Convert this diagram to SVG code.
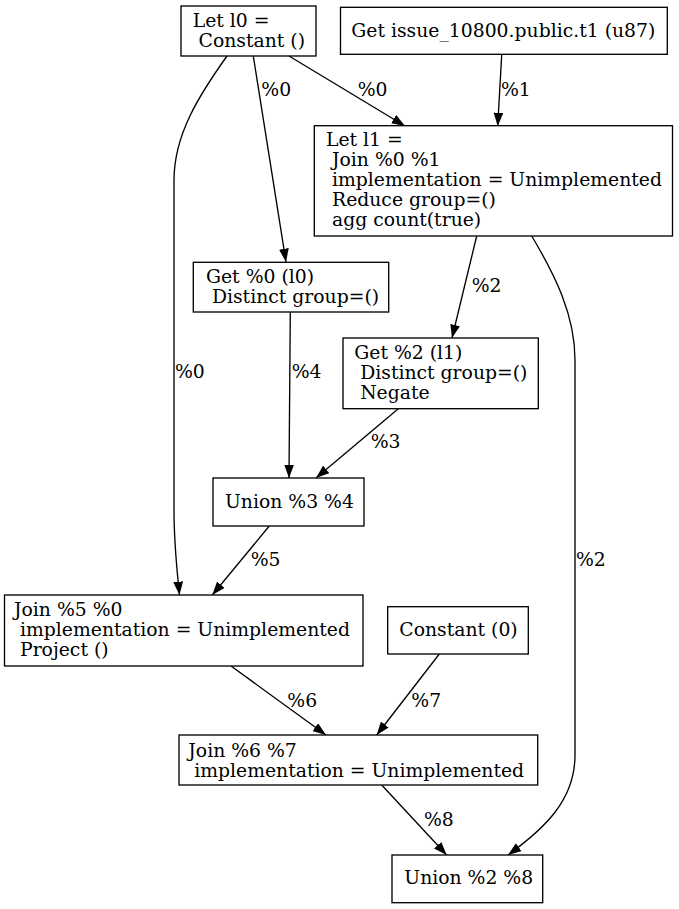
<svg xmlns="http://www.w3.org/2000/svg" width="679" height="909" viewBox="0 0 679 909">
<style>
text{font-family:"DejaVu Serif","Liberation Serif",serif;font-size:18.8px;fill:#000}
.n{fill:#fff;stroke:#000;stroke-width:1.33}
.e{fill:none;stroke:#000;stroke-width:1.33}
</style>
<defs>
<marker id="ah" markerUnits="userSpaceOnUse" viewBox="0 0 13.3 9.8" refX="13.3" refY="4.9" markerWidth="13.3" markerHeight="9.8" orient="auto">
<path d="M0,0 L13.3,4.9 L0,9.8 z" fill="#000"/>
</marker>
</defs>
<rect width="679" height="909" fill="#fff"/>
<g id="edges">
<path class="e" marker-end="url(#ah)" d="M289,56 L405,126"/>
<path class="e" marker-end="url(#ah)" d="M253.3,56 L286,262"/>
<path class="e" marker-end="url(#ah)" d="M227,56 C200,94 174,134 174,180 L174,510 C174,545 177,570 179.5,595"/>
<path class="e" marker-end="url(#ah)" d="M501.7,55 L497.7,126"/>
<path class="e" marker-end="url(#ah)" d="M476.7,236 L452,338"/>
<path class="e" marker-end="url(#ah)" d="M531.7,236 C555,275 575,315 575,360 L575,755 C575,800 545,828 508,855"/>
<path class="e" marker-end="url(#ah)" d="M290.3,312 L289,478"/>
<path class="e" marker-end="url(#ah)" d="M398.3,408.7 L316,478"/>
<path class="e" marker-end="url(#ah)" d="M269.3,526 L212.3,595"/>
<path class="e" marker-end="url(#ah)" d="M231,666 L326,735"/>
<path class="e" marker-end="url(#ah)" d="M439.3,654 L376.7,735"/>
<path class="e" marker-end="url(#ah)" d="M381.7,785 L446.7,855"/>
<text x="261.3" y="95.5">%0</text>
<text x="357.7" y="95.5">%0</text>
<text x="501" y="95.5">%1</text>
<text x="175" y="377.5">%0</text>
<text x="291.7" y="377.5">%4</text>
<text x="471.7" y="292">%2</text>
<text x="576" y="565.5">%2</text>
<text x="370.7" y="447.5">%3</text>
<text x="250.7" y="565.5">%5</text>
<text x="287.3" y="706.5">%6</text>
<text x="411.3" y="706.5">%7</text>
<text x="424" y="825.5">%8</text>
</g>
<g id="n_l0">
<rect class="n" x="181" y="6" width="135" height="50"/>
<text x="192.7" y="26.5">Let l0 =</text>
<text x="198.6" y="46.5">Constant ()</text>
</g>
<g id="n_get_t1">
<rect class="n" x="340.5" y="7.3" width="326.8" height="47"/>
<text x="351.3" y="36.5">Get issue_10800.public.t1 (u87)</text>
</g>
<g id="n_l1">
<rect class="n" x="314.3" y="125.7" width="358.2" height="110.3"/>
<text x="326" y="145.5">Let l1 =</text>
<text x="332" y="165.5">Join %0 %1</text>
<text x="332" y="185.5">implementation = Unimplemented</text>
<text x="332" y="205.5">Reduce group=()</text>
<text x="332" y="225.5">agg count(true)</text>
</g>
<g id="n_get0">
<rect class="n" x="193.3" y="262.3" width="195.4" height="49.7"/>
<text x="206" y="282.8">Get %0 (l0)</text>
<text x="211.9" y="302.8">Distinct group=()</text>
</g>
<g id="n_get2">
<rect class="n" x="343" y="338" width="195.3" height="70.7"/>
<text x="354.3" y="358.8">Get %2 (l1)</text>
<text x="360.2" y="378.8">Distinct group=()</text>
<text x="360.2" y="398.8">Negate</text>
</g>
<g id="n_union34">
<rect class="n" x="213" y="478" width="151" height="48"/>
<text x="225" y="507.5">Union %3 %4</text>
</g>
<g id="n_join50">
<rect class="n" x="4.5" y="595" width="358.5" height="71"/>
<text x="14" y="615.5">Join %5 %0</text>
<text x="20" y="635.5">implementation = Unimplemented</text>
<text x="20" y="655.5">Project ()</text>
</g>
<g id="n_const0">
<rect class="n" x="387.7" y="606.7" width="140.6" height="47.3"/>
<text x="399.3" y="636">Constant (0)</text>
</g>
<g id="n_join67">
<rect class="n" x="179" y="735" width="358.7" height="50"/>
<text x="188.3" y="757.2">Join %6 %7</text>
<text x="194.2" y="777.2">implementation = Unimplemented</text>
</g>
<g id="n_union28">
<rect class="n" x="392" y="855" width="150.7" height="47.7"/>
<text x="404.3" y="884">Union %2 %8</text>
</g>
</svg>
